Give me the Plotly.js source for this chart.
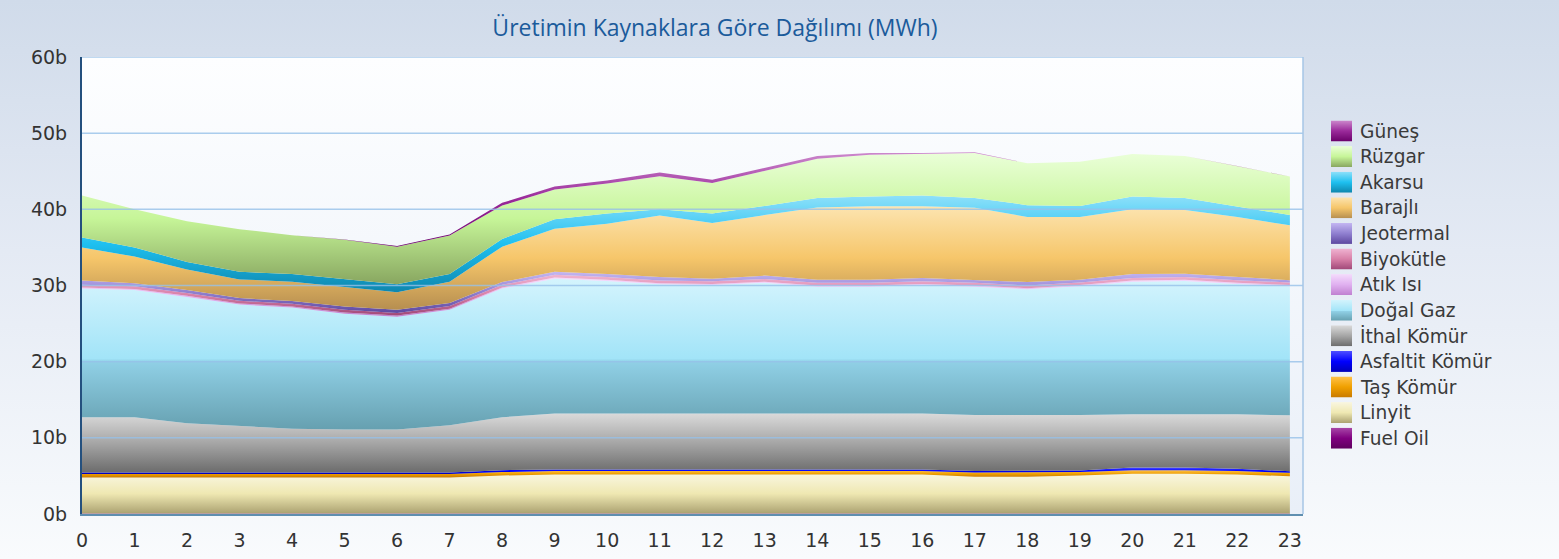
<!DOCTYPE html>
<html><head><meta charset="utf-8">
<script src="https://cdn.plot.ly/plotly-3.0.1.min.js"></script>
<style>
html,body{margin:0;padding:0;width:1559px;height:559px;overflow:hidden;
background:linear-gradient(to bottom,#d0dbea 0%,#e4eaf4 45%,#f9fbfd 100%);}
#chart{width:1559px;height:559px;}
</style></head><body><div id="chart"></div>
<script>
// ---- data (values in billions, "b") ----
const hours = [0,1,2,3,4,5,6,7,8,9,10,11,12,13,14,15,16,17,18,19,20,21,22,23];
const yTicks = [0,10,20,30,40,50,60];

const fuelOil   = [0.05,0.05,0.05,0.05,0.05,0.05,0.05,0.05,0.05,0.05,0.05,0.05,0.05,0.05,0.05,0.05,0.05,0.05,0.05,0.05,0.05,0.05,0.05,0.05];
const linyit    = [4.75,4.75,4.75,4.75,4.75,4.75,4.75,4.75,5.0,5.15,5.15,5.15,5.15,5.15,5.15,5.15,5.15,4.85,4.85,5.0,5.25,5.25,5.15,4.9];
const tasKomur  = [0.45,0.45,0.45,0.45,0.45,0.45,0.45,0.45,0.45,0.45,0.45,0.45,0.45,0.45,0.45,0.45,0.45,0.55,0.55,0.45,0.45,0.45,0.45,0.45];
const asfaltit  = [0.2,0.2,0.2,0.2,0.2,0.2,0.2,0.2,0.25,0.2,0.2,0.2,0.2,0.2,0.2,0.2,0.2,0.2,0.2,0.2,0.35,0.35,0.3,0.2];
const ithal     = [7.25,7.25,6.45,6.15,5.75,5.65,5.65,6.2,6.95,7.35,7.35,7.35,7.35,7.35,7.35,7.35,7.35,7.35,7.35,7.3,7.0,7.0,7.15,7.35];
const dogalGaz  = [16.9,16.7,16.6,15.9,15.9,15.2,14.8,15.15,16.9,17.7,17.4,16.95,16.85,17.15,16.65,16.65,16.85,16.85,16.5,16.9,17.4,17.5,17.1,16.95];
const atikIsi   = [0.15,0.15,0.15,0.15,0.15,0.15,0.15,0.15,0.15,0.15,0.15,0.15,0.15,0.15,0.15,0.15,0.15,0.15,0.15,0.15,0.15,0.15,0.15,0.15];
const biyokutle = [0.35,0.35,0.35,0.35,0.35,0.35,0.35,0.35,0.35,0.35,0.35,0.35,0.35,0.35,0.35,0.35,0.35,0.35,0.35,0.35,0.35,0.35,0.35,0.35];
const jeotermal = [0.55,0.4,0.4,0.35,0.35,0.45,0.4,0.4,0.35,0.4,0.4,0.45,0.35,0.45,0.4,0.4,0.45,0.35,0.45,0.35,0.5,0.45,0.45,0.3];
const barajli   = [4.35,3.5,2.7,2.45,2.55,2.55,2.3,2.8,4.65,5.65,6.6,8.1,7.3,7.95,9.5,9.65,9.4,9.5,8.55,8.25,8.5,8.35,7.85,7.2];
const akarsu    = [1.3,1.2,1.0,1.0,1.0,1.0,1.05,1.0,1.0,1.25,1.35,0.8,1.25,1.2,1.25,1.3,1.4,1.3,1.55,1.45,1.7,1.6,1.4,1.35];
const ruzgar    = [5.5,5.0,5.35,5.6,5.1,5.2,4.95,5.05,4.4,3.9,3.95,4.35,4.0,4.6,5.15,5.45,5.45,5.9,5.5,5.8,5.55,5.5,5.3,5.05];
const gunes     = [0,0,0,0,0,0.05,0.1,0.15,0.35,0.4,0.4,0.5,0.45,0.4,0.35,0.25,0.15,0.1,0,0,0,0,0,0];

const seriesNames = ['Fuel Oil','Linyit','Taş Kömür','Asfaltit Kömür','İthal Kömür','Doğal Gaz','Atık Isı','Biyokütle','Jeotermal','Barajlı','Akarsu','Rüzgar','Güneş'];
const seriesValues = [fuelOil,linyit,tasKomur,asfaltit,ithal,dogalGaz,atikIsi,biyokutle,jeotermal,barajli,akarsu,ruzgar,gunes];

// gradient colour stops, bottom -> top
const seriesGradients = [
  [[0,'#5e005e'],[0.5,'#800080'],[1,'#a848a8']],
  [[0,'#aba271'],[0.5,'#efe8b2'],[1,'#f9f6e0']],
  [[0,'#c87a00'],[0.5,'#f0a000'],[1,'#ffc24a']],
  [[0,'#0000b8'],[0.5,'#0000ff'],[1,'#5050ff']],
  [[0,'#6c6c6c'],[0.5,'#a6a6a6'],[1,'#dadada']],
  [[0,'#66a0b0'],[0.45,'#90d0e6'],[0.47,'#a2e4f8'],[1,'#d4f4fd']],
  [[0,'#c080d0'],[0.5,'#e0b0f0'],[1,'#f4dcfc']],
  [[0,'#a04878'],[0.5,'#d880a8'],[1,'#f0b4d2']],
  [[0,'#5e48a0'],[0.5,'#9080d0'],[1,'#c4b6f2']],
  [[0,'#b68e50'],[0.5,'#f6c66a'],[1,'#fce4b0']],
  [[0,'#0e86ad'],[0.5,'#1ec0f0'],[1,'#8ee0fa']],
  [[0,'#88a660'],[0.5,'#c6f598'],[1,'#eaffd8']],
  [[0,'#6a006a'],[0.5,'#9a2a9a'],[1,'#cc88cc']]
];

// ---- geometry ----
const W = 1559, H = 559;
const M = {l:82, r:256, t:57, b:45};
const PW = W - M.l - M.r, PH = H - M.t - M.b;
const px2x = p => (p - M.l) / PW;
const py2y = p => (H - M.b - p) / PH;

function gradURI(stops){
  const st = stops.map(s => `<stop offset='${s[0]}' stop-color='${s[1]}'/>`).join('');
  const svg = `<svg xmlns='http://www.w3.org/2000/svg' width='10' height='10' viewBox='0 0 10 10' preserveAspectRatio='none'><defs><linearGradient id='g' x1='0' y1='1' x2='0' y2='0'>${st}</linearGradient></defs><rect width='10' height='10' fill='url(#g)'/></svg>`;
  return 'data:image/svg+xml;charset=utf-8,' + encodeURIComponent(svg);
}

const traces = seriesNames.map((name, i) => ({
  type: 'scatter', mode: 'lines', x: hours, y: seriesValues[i], name: name,
  stackgroup: 'one', line: {width: 0, color: seriesGradients[i][1][1]},
  fillcolor: seriesGradients[i][1][1],
  fillgradient: {type: 'vertical', colorscale: seriesGradients[i]},
  showlegend: false, hoverinfo: 'x+y+name'
}));

const shapes = [];
yTicks.filter(v => v > 0).forEach(v => shapes.push({
  type:'line', xref:'paper', x0:0, x1:1, yref:'y', y0:v, y1:v,
  line:{color:'rgba(150,192,232,0.8)', width:1.5}, layer:'above'
}));
shapes.push({type:'line', xref:'paper', x0:1, x1:1, yref:'paper', y0:0, y1:1,
  line:{color:'#a6c6e6', width:1.5}, layer:'above'});

const images = [{
  source: gradURI([[0,'#e9eff8'],[1,'#fdfeff']]), xref:'paper', yref:'paper',
  x:0, y:1, sizex:1, sizey:1, xanchor:'left', yanchor:'top', sizing:'stretch', layer:'below'
}];
const annotations = [];
const legendTop = 131, legendStep = 25.6;
for (let k = 0; k < seriesNames.length; k++) {
  const i = seriesNames.length - 1 - k;
  const cy = legendTop + k * legendStep;
  images.push({source: gradURI(seriesGradients[i]), xref:'paper', yref:'paper',
    x: px2x(1331), y: py2y(cy - 10.5), sizex: 21/PW, sizey: 21/PH,
    xanchor:'left', yanchor:'top', sizing:'stretch', layer:'above'});
  annotations.push({text: seriesNames[i], xref:'paper', yref:'paper',
    x: px2x(1358), y: py2y(cy), xanchor:'left', yanchor:'middle', showarrow:false,
    font:{family:'DejaVu Sans', size:18.6, color:'#3a3a3a'}});
}

const layout = {
  width: W, height: H,
  margin: {l:M.l, r:M.r, t:M.t, b:M.b, pad:0},
  paper_bgcolor: 'rgba(0,0,0,0)', plot_bgcolor: 'rgba(0,0,0,0)',
  title: {text:'Üretimin Kaynaklara Göre Dağılımı (MWh)', xref:'container', yref:'container',
    x: 715/W, xanchor:'center', y: 1 - 28/H, yanchor:'middle',
    font:{family:'Open Sans', size:23, color:'#1b5b9b'}},
  showlegend: false,
  xaxis: {range:[0,23.25], tickvals: hours, ticktext: hours.map(String), showgrid:false, zeroline:false,
    showline:true, linecolor:'#5f8fb0', linewidth:1.5, ticks:'outside', ticklen:9, tickcolor:'rgba(0,0,0,0)',
    tickfont:{family:'DejaVu Sans', size:19, color:'#333333'}, layer:'above traces', fixedrange:true},
  yaxis: {range:[0,60], tickvals: yTicks, ticktext: yTicks.map(v => v + 'b'), showgrid:false, zeroline:false,
    showline:true, linecolor:'#24507e', linewidth:2, ticks:'outside', ticklen:9, tickcolor:'rgba(0,0,0,0)',
    tickfont:{family:'DejaVu Sans', size:19, color:'#333333'}, layer:'below traces', fixedrange:true},
  shapes: shapes, images: images, annotations: annotations
};

Plotly.newPlot('chart', traces, layout, {displayModeBar:false, staticPlot:true});
</script></body></html>
